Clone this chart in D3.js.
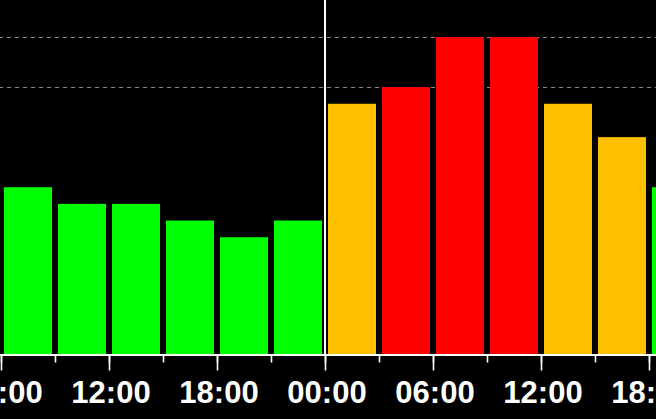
<!DOCTYPE html>
<html>
<head>
<meta charset="utf-8">
<script src="https://cdn.jsdelivr.net/npm/d3@7"></script>
<style>
  html, body { margin: 0; padding: 0; background: #000; overflow: hidden; }
  svg { display: block; }
</style>
</head>
<body>
<script>
const width = 656, height = 419;

// 3-hour slots (start time) and their level
const slotStarts = [
  "2024-01-01 06:00", "2024-01-01 09:00", "2024-01-01 12:00", "2024-01-01 15:00",
  "2024-01-01 18:00", "2024-01-01 21:00", "2024-01-02 00:00", "2024-01-02 03:00",
  "2024-01-02 06:00", "2024-01-02 09:00", "2024-01-02 12:00", "2024-01-02 15:00",
  "2024-01-02 18:00"
];
const levels = [10, 9, 9, 8, 7, 8, 15, 16, 19, 19, 15, 13, 10];
const gridLevels = [16, 19];
const nowMark = "2024-01-02 00:00";

const parse = d3.timeParse("%Y-%m-%d %H:%M");
const slots = slotStarts.map((s, i) => ({t: parse(s), v: levels[i]}));

const colour = v => v >= 16 ? "#ff0000" : v > 10 ? "#ffc000" : "#00ff00";

const baseY = 354;

var x = d3.scaleTime()
  .domain([parse("2024-01-01 06:00"), parse("2024-01-02 18:00")])
  .range([1, 649]);

var y = d3.scaleLinear()
  .domain([0, 21.22])
  .range([baseY, 0]);

var svg = d3.select("body").append("svg")
  .attr("width", width)
  .attr("height", height);

svg.append("rect")
  .attr("width", width).attr("height", height)
  .attr("fill", "#000");

// dashed guide lines
svg.selectAll(".grid")
  .data(gridLevels)
  .enter().append("line")
  .attr("class", "grid")
  .attr("x1", -1).attr("x2", width)
  .attr("y1", d => Math.round(y(d)) + 0.5)
  .attr("y2", d => Math.round(y(d)) + 0.5)
  .attr("stroke", "#8a8a8a")
  .attr("stroke-width", 1)
  .attr("stroke-dasharray", "4,4");

// bars
svg.selectAll(".bar")
  .data(slots)
  .enter().append("rect")
  .attr("class", "bar")
  .attr("x", d => x(d.t) + 3)
  .attr("width", d => x(d3.timeHour.offset(d.t, 3)) - x(d.t) - 6)
  .attr("y", d => y(d.v))
  .attr("height", d => y(0) - y(d.v))
  .attr("fill", d => colour(d.v));

// current-time marker
svg.append("line")
  .attr("x1", x(parse(nowMark))).attr("x2", x(parse(nowMark)))
  .attr("y1", 0).attr("y2", baseY)
  .attr("stroke", "#fff")
  .attr("stroke-width", 2);

// minor ticks (every 3h)
var minorAxis = d3.axisBottom(x)
  .ticks(d3.timeHour.every(3))
  .tickSize(8)
  .tickSizeOuter(0)
  .tickFormat("");

// major ticks with labels (every 6h)
var majorAxis = d3.axisBottom(x)
  .ticks(d3.timeHour.every(6))
  .tickSize(16)
  .tickSizeOuter(0)
  .tickFormat(d3.timeFormat("%H:%M"));

var gMinor = svg.append("g")
  .attr("transform", "translate(0," + (baseY + 0.5) + ")")
  .call(minorAxis);

var gMajor = svg.append("g")
  .attr("transform", "translate(0," + (baseY + 0.5) + ")")
  .call(majorAxis);

[gMinor, gMajor].forEach(g => {
  g.select(".domain").remove();
  g.selectAll(".tick line").attr("stroke", "#fff").attr("stroke-width", 1.6);
});

gMajor.selectAll(".tick text")
  .attr("fill", "#fff")
  .attr("font-family", "'Liberation Sans', Arial, sans-serif")
  .attr("font-weight", "bold")
  .attr("font-size", 31)
  .attr("y", 48)
  .attr("dy", 0)
  .attr("dx", 1.5);

// axis baseline across the full width
svg.append("line")
  .attr("x1", 0).attr("x2", width)
  .attr("y1", baseY + 1).attr("y2", baseY + 1)
  .attr("stroke", "#fff")
  .attr("stroke-width", 2);
</script>
</body>
</html>
